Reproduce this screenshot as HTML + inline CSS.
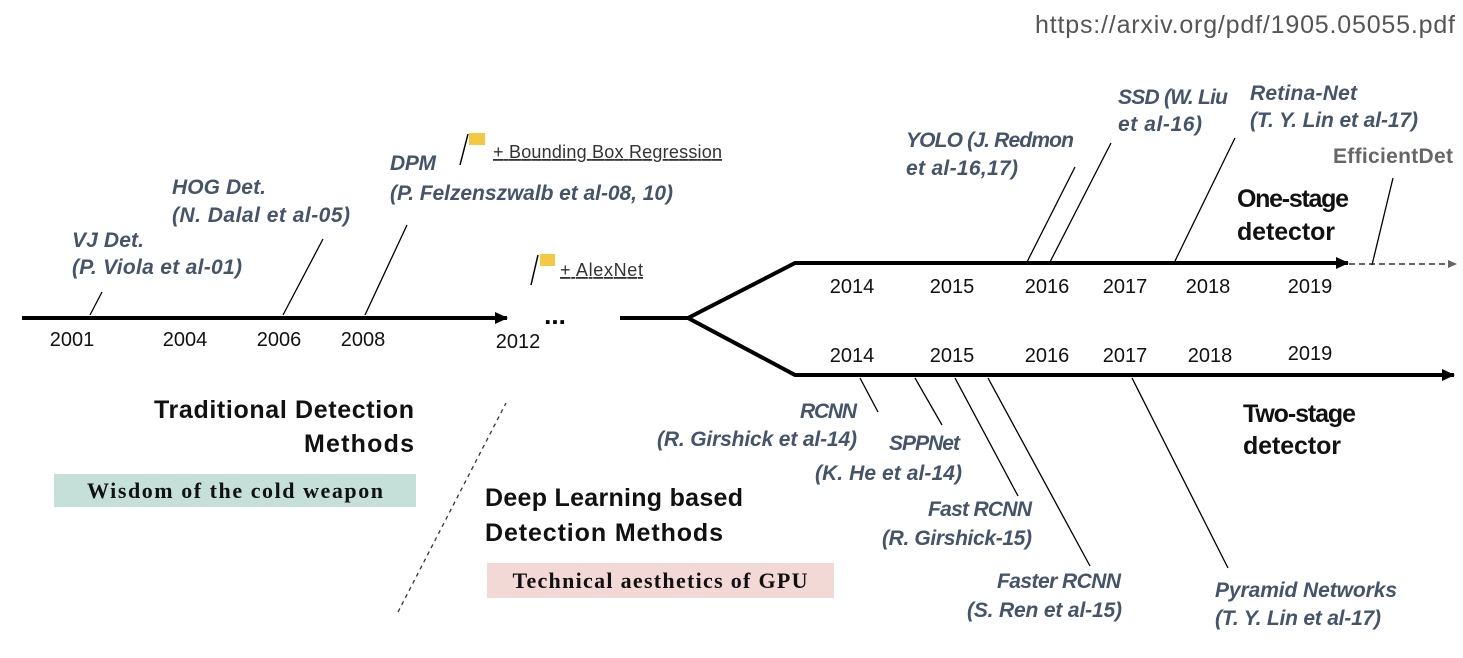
<!DOCTYPE html>
<html><head><meta charset="utf-8"><style>
html,body{margin:0;padding:0;background:#fff;}
svg{display:block;}
.l{font-family:"Liberation Sans",sans-serif;font-style:italic;font-weight:bold;font-size:21px;fill:#44546a;}
.y{font-family:"Liberation Sans",sans-serif;font-size:20px;fill:#111;}
.b{font-family:"Liberation Sans",sans-serif;font-weight:bold;font-size:25px;fill:#111;}
.s{font-family:"Liberation Sans",sans-serif;font-size:18px;fill:#333;}
.t{font-family:"Liberation Serif",serif;font-weight:bold;font-size:22px;fill:#111;}
</style></head><body>
<svg width="1463" height="658" viewBox="0 0 1463 658" xmlns="http://www.w3.org/2000/svg">
<defs>
<marker id="ah" markerWidth="14" markerHeight="14" refX="12" refY="7" orient="auto" markerUnits="userSpaceOnUse"><path d="M0,1 L13,7 L0,13 z" fill="#000"/></marker>
<marker id="ahg" markerWidth="10" markerHeight="10" refX="9" refY="5" orient="auto" markerUnits="userSpaceOnUse"><path d="M0,1 L9,5 L0,9 z" fill="#666"/></marker>
</defs>
<text x="1455" y="33" text-anchor="end" font-family="Liberation Sans,sans-serif" font-size="25" fill="#555" textLength="420">https://arxiv.org/pdf/1905.05055.pdf</text>

<line x1="22" y1="318" x2="507" y2="318" stroke="#000" stroke-width="4" marker-end="url(#ah)"/>
<text x="555" y="324" text-anchor="middle" font-family="Liberation Sans,sans-serif" font-weight="bold" font-size="26">...</text>
<polyline points="620,318 688,318 795,263 1348,263" fill="none" stroke="#000" stroke-width="4" marker-end="url(#ah)"/>
<polyline points="688,318 795,375 1454,375" fill="none" stroke="#000" stroke-width="4" marker-end="url(#ah)"/>
<line x1="1349" y1="264" x2="1457" y2="264" stroke="#666" stroke-width="2" stroke-dasharray="6,4" marker-end="url(#ahg)"/>

<g class="y">
<text x="72" y="346" text-anchor="middle">2001</text>
<text x="185" y="346" text-anchor="middle">2004</text>
<text x="279" y="346" text-anchor="middle">2006</text>
<text x="363" y="346" text-anchor="middle">2008</text>
<text x="518" y="348" text-anchor="middle">2012</text>
<text x="852" y="293" text-anchor="middle">2014</text>
<text x="952" y="293" text-anchor="middle">2015</text>
<text x="1047" y="293" text-anchor="middle">2016</text>
<text x="1125" y="293" text-anchor="middle">2017</text>
<text x="1208" y="293" text-anchor="middle">2018</text>
<text x="1310" y="293" text-anchor="middle">2019</text>
<text x="852" y="362" text-anchor="middle">2014</text>
<text x="952" y="362" text-anchor="middle">2015</text>
<text x="1047" y="362" text-anchor="middle">2016</text>
<text x="1125" y="362" text-anchor="middle">2017</text>
<text x="1210" y="362" text-anchor="middle">2018</text>
<text x="1310" y="360" text-anchor="middle">2019</text>
</g>

<g stroke="#000" stroke-width="1.3">
<line x1="90" y1="315" x2="102" y2="292"/>
<line x1="283" y1="315" x2="323" y2="239"/>
<line x1="365" y1="315" x2="407" y2="225"/>
<line x1="1027" y1="262" x2="1075" y2="167"/>
<line x1="1050" y1="262" x2="1111" y2="143"/>
<line x1="1175" y1="261" x2="1235" y2="138"/>
<line x1="1372" y1="265" x2="1393" y2="178"/>
<line x1="860" y1="378" x2="878" y2="412"/>
<line x1="915" y1="378" x2="942" y2="425"/>
<line x1="955" y1="378" x2="1018" y2="496"/>
<line x1="988" y1="378" x2="1090" y2="566"/>
<line x1="1132" y1="378" x2="1228" y2="568"/>
</g>
<line x1="398" y1="612" x2="506" y2="403" stroke="#333" stroke-width="1.3" stroke-dasharray="4,4"/>

<line x1="460" y1="165" x2="468" y2="134" stroke="#000" stroke-width="1.5"/>
<rect x="469" y="133" width="16" height="12" fill="#f5c842"/>
<text class="s" x="493" y="158" text-decoration="underline" textLength="229">+ Bounding Box Regression</text>
<line x1="531" y1="285" x2="538" y2="255" stroke="#000" stroke-width="1.5"/>
<rect x="540" y="254" width="15" height="12" fill="#f5c842"/>
<text class="s" x="560" y="276" text-decoration="underline" textLength="83">+ AlexNet</text>

<g class="l">
<text x="72" y="247" textLength="72">VJ Det.</text>
<text x="72" y="274" textLength="170">(P. Viola et al-01)</text>
<text x="172" y="194" textLength="94">HOG Det.</text>
<text x="172" y="222" textLength="178">(N. Dalal et al-05)</text>
<text x="390" y="170" textLength="46">DPM</text>
<text x="390" y="200" textLength="283">(P. Felzenszwalb et al-08, 10)</text>
<text x="906" y="147" textLength="168">YOLO (J. Redmon</text>
<text x="906" y="175" textLength="112">et al-16,17)</text>
<text x="1118" y="104" textLength="110">SSD (W. Liu</text>
<text x="1118" y="131" textLength="84">et al-16)</text>
<text x="1250" y="100" textLength="107">Retina-Net</text>
<text x="1250" y="127" textLength="168">(T. Y. Lin et al-17)</text>
<text x="857" y="418" text-anchor="end" textLength="57">RCNN</text>
<text x="857" y="446" text-anchor="end" textLength="200">(R. Girshick et al-14)</text>
<text x="960" y="450" text-anchor="end" textLength="71">SPPNet</text>
<text x="962" y="480" text-anchor="end" textLength="147">(K. He et al-14)</text>
<text x="1032" y="516" text-anchor="end" textLength="104">Fast RCNN</text>
<text x="1032" y="545" text-anchor="end" textLength="150">(R. Girshick-15)</text>
<text x="1121" y="588" text-anchor="end" textLength="124">Faster RCNN</text>
<text x="1122" y="617" text-anchor="end" textLength="155">(S. Ren et al-15)</text>
<text x="1215" y="597" textLength="182">Pyramid Networks</text>
<text x="1215" y="625" textLength="166">(T. Y. Lin et al-17)</text>
</g>
<text x="1333" y="163" font-family="Liberation Sans,sans-serif" font-weight="bold" font-size="21" fill="#666" textLength="120">EfficientDet</text>

<g class="b">
<text x="1237" y="207" textLength="112">One-stage</text>
<text x="1237" y="240" textLength="98">detector</text>
<text x="1243" y="422" textLength="113">Two-stage</text>
<text x="1243" y="454" textLength="98">detector</text>
<text x="414" y="418" text-anchor="end" textLength="260">Traditional Detection</text>
<text x="414" y="452" text-anchor="end" textLength="110">Methods</text>
<text x="485" y="506" textLength="258">Deep Learning based</text>
<text x="485" y="541" textLength="238">Detection Methods</text>
</g>

<rect x="54" y="474" width="362" height="33" fill="#c5e0d8"/>
<text class="t" x="235" y="498" text-anchor="middle" textLength="296">Wisdom of the cold weapon</text>
<rect x="487" y="563" width="347" height="35" fill="#f2d9d6"/>
<text class="t" x="660" y="588" text-anchor="middle" textLength="295">Technical aesthetics of GPU</text>
</svg>
</body></html>
